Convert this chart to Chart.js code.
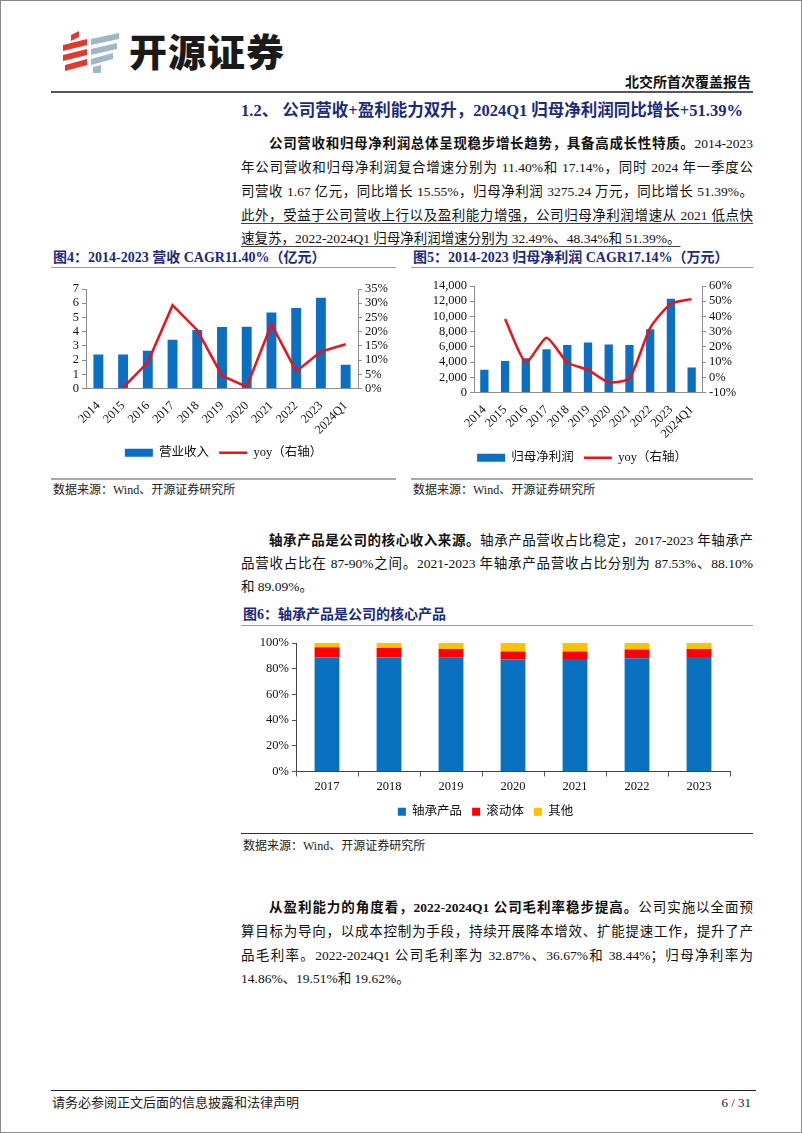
<!DOCTYPE html>
<html>
<head>
<meta charset="utf-8">
<script src="https://cdn.jsdelivr.net/npm/chart.js@4.4.1/dist/chart.umd.min.js"></script>
<style>
body { margin: 0; }
#page { position: relative; width: 802px; height: 1133px; box-sizing: border-box; border: 1px solid #8a8a8a; background: #fff;
  font-family: "Liberation Serif", "Noto Sans CJK SC", serif; color: #111; overflow: hidden; }
.abs { position: absolute; }
.ln { position: absolute; left: 240px; width: 512px; font-size: 13.5px; line-height: 20px; text-align: justify; text-align-last: justify; }
.ln.last { text-align-last: left; }
.ln.ind { padding-left: 28px; width: 484px; }
.u { text-decoration: underline; text-decoration-color: #444; text-underline-offset: 3px; }
.navy { color: #1c2a7c; font-weight: bold; }
.ftitle { position: absolute; font-size: 14px; line-height: 18px; white-space: nowrap; }
.rule { position: absolute; height: 0; }
.src { position: absolute; font-size: 12px; line-height: 16px; color: #222; }
.box { position: absolute; }
</style>
</head>
<body>
<div id="page">
  <!-- logo -->
  <svg class="abs" style="left:60px;top:28px" width="62" height="46" viewBox="0 0 62 46">
    <polygon points="10,6 18,2 18,8 10,12" fill="#e03a2f"/>
    <polygon points="2,16 26,10 26,16 2,22" fill="#e03a2f"/>
    <polygon points="2,26 26,20 26,26 2,32" fill="#e03a2f"/>
    <polygon points="4,36 26,30 26,36 4,42" fill="#e03a2f"/>
    <polygon points="30,10 58,4 58,10 30,16" fill="#9fb8c8"/>
    <polygon points="30,20 56,14 56,20 30,26" fill="#9fb8c8"/>
    <polygon points="30,30 52,24 52,30 30,36" fill="#9fb8c8"/>
    <polygon points="32,38 40,36 40,44 32,44" fill="#9fb8c8"/>
  </svg>
  <div class="abs" style="left:128px;top:26px;font-family:'Noto Sans CJK SC';font-weight:900;font-size:38px;line-height:46px;color:#1a1a1a;letter-spacing:1px">开源证券</div>
  <div class="abs" style="right:50px;top:73px;font-size:14px;font-weight:bold;line-height:18px">北交所首次覆盖报告</div>
  <div class="rule" style="left:50px;width:702px;top:90px;border-top:2px solid #555"></div>

  <div class="abs navy" style="left:240px;top:99px;font-size:16.5px;line-height:22px;white-space:nowrap">1.2、 公司营收+盈利能力双升，2024Q1 归母净利润同比增长+51.39%</div>

  <div class="ln ind" style="top:133px"><b>公司营收和归母净利润总体呈现稳步增长趋势，具备高成长性特质。</b>2014-2023</div>
  <div class="ln" style="top:157px">年公司营收和归母净利润复合增速分别为 11.40%和 17.14%，同时 2024 年一季度公</div>
  <div class="ln" style="top:181px">司营收 1.67 亿元，同比增长 15.55%，归母净利润 3275.24 万元，同比增长 51.39%。</div>
  <div class="ln" style="top:205px"><span class="u">此外，受益于公司营收上行以及盈利能力增强，公司归母净利润增速从 2021 低点快</span></div>
  <div class="ln last" style="top:228px"><span class="u">速复苏，2022-2024Q1 归母净利润增速分别为 32.49%、48.34%和 51.39%。</span></div>

  <div class="ftitle navy" style="left:52px;top:248px">图4：2014-2023 营收 CAGR11.40%（亿元）</div>
  <div class="rule" style="left:50px;width:345px;top:266px;border-top:1px solid #9a9a9a"></div>
  <div class="ftitle navy" style="left:412px;top:248px">图5：2014-2023 归母净利润 CAGR17.14%（万元）</div>
  <div class="rule" style="left:410px;width:342px;top:266px;border-top:1px solid #9a9a9a"></div>

  <div class="box" style="left:50px;top:270px;width:345px;height:198px"><canvas id="revChart"></canvas></div>
  <div class="box" style="left:410px;top:270px;width:342px;height:203px"><canvas id="profitChart"></canvas></div>

  <div class="rule" style="left:50px;width:345px;top:477px;border-top:2px solid #a8a8a8"></div>
  <div class="src" style="left:52px;top:481px">数据来源：Wind、开源证券研究所</div>
  <div class="rule" style="left:410px;width:342px;top:477px;border-top:2px solid #a8a8a8"></div>
  <div class="src" style="left:412px;top:481px">数据来源：Wind、开源证券研究所</div>

  <div class="ln ind" style="top:530px"><b>轴承产品是公司的核心收入来源。</b>轴承产品营收占比稳定，2017-2023 年轴承产</div>
  <div class="ln" style="top:553px">品营收占比在 87-90%之间。2021-2023 年轴承产品营收占比分别为 87.53%、88.10%</div>
  <div class="ln last" style="top:576px">和 89.09%。</div>

  <div class="ftitle navy" style="left:242px;top:605px">图6：轴承产品是公司的核心产品</div>
  <div class="rule" style="left:240px;width:512px;top:624px;border-top:1px solid #9a9a9a"></div>
  <div class="box" style="left:240px;top:630px;width:512px;height:197px"><canvas id="mixChart"></canvas></div>
  <div class="rule" style="left:240px;width:512px;top:832px;border-top:1px solid #333"></div>
  <div class="src" style="left:242px;top:837px">数据来源：Wind、开源证券研究所</div>

  <div class="ln ind" style="top:897px"><b>从盈利能力的角度看，2022-2024Q1 公司毛利率稳步提高。</b>公司实施以全面预</div>
  <div class="ln" style="top:921px">算目标为导向，以成本控制为手段，持续开展降本增效、扩能提速工作，提升了产</div>
  <div class="ln" style="top:945px">品毛利率。2022-2024Q1 公司毛利率为 32.87%、36.67%和 38.44%；归母净利率为</div>
  <div class="ln last" style="top:968px">14.86%、19.51%和 19.62%。</div>

  <div class="rule" style="left:50px;width:705px;top:1089px;border-top:1.5px solid #222"></div>
  <div class="src" style="left:51px;top:1094px;font-size:13px">请务必参阅正文后面的信息披露和法律声明</div>
  <div class="src" style="right:50px;top:1094px;font-size:13px">6 / 31</div>
</div>

<script>
// 图4 营收（亿元）及同比
const revLabels = ['2014', '2015', '2016', '2017', '2018', '2019', '2020', '2021', '2022', '2023', '2024Q1'];
const revenue = [2.39, 2.40, 2.65, 3.43, 4.11, 4.32, 4.34, 5.35, 5.66, 6.38, 1.67];
const revenueYoy = [null, 0.3, 9.2, 29.3, 20.5, 4.5, 0.6, 22.6, 6.0, 13.0, 15.55];

// 图5 归母净利润（万元）及同比
const profitLabels = ['2014', '2015', '2016', '2017', '2018', '2019', '2020', '2021', '2022', '2023', '2024Q1'];
const netProfit = [2980, 4150, 4500, 5690, 6260, 6560, 6300, 6260, 8310, 12330, 3275.24];
const netProfitYoy = [null, 38.3, 9.8, 26.0, 9.8, 4.8, -3.3, -0.7, 32.49, 48.34, 51.39];

// 图6 收入结构
const mixYears = ['2017', '2018', '2019', '2020', '2021', '2022', '2023'];
const bearingShare = [88.7, 88.7, 88.6, 87.1, 87.53, 88.10, 89.09];
const rollerShare = [8.0, 7.4, 6.7, 6.2, 5.8, 6.8, 6.3];
const otherShare = [3.3, 3.9, 4.7, 6.7, 6.6, 5.1, 4.6];

const serif = "'Liberation Serif', 'Noto Sans CJK SC', serif";
const tickFont = { family: serif, size: 12.5 };
const legendFont = { family: serif, size: 12.5 };
const barBlue = '#0d6fc2';
const lineRed = '#e8131b';
const axisGray = '#8c8c8c';

function fixWidth(w) {
    return function (scale) { scale.width = w; };
}
function fixHeight(h) {
    return function (scale) { scale.height = h; };
}

function dualAxisChart(id, labels, bars, yoy, barName, opts) {
    const ctx = document.getElementById(id).getContext('2d');
    return new Chart(ctx, {
        data: {
            labels: labels,
            datasets: [{
                type: 'line',
                label: 'yoy（右轴）',
                data: yoy,
                yAxisID: 'y1',
                borderColor: lineRed,
                backgroundColor: lineRed,
                borderWidth: 2.5,
                pointRadius: 0,
                pointStyle: 'line',
                tension: opts.tension,
                order: 0
            }, {
                type: 'bar',
                label: barName,
                data: bars,
                yAxisID: 'y',
                backgroundColor: barBlue,
                barPercentage: 0.4,
                categoryPercentage: 1,
                pointStyle: 'rect',
                order: 1
            }]
        },
        options: {
            responsive: true,
            maintainAspectRatio: false,
            animation: false,
            layout: { padding: { top: opts.top, left: 0, right: 0, bottom: 0 } },
            plugins: {
                tooltip: { enabled: false },
                legend: {
                    position: 'bottom',
                    reverse: true,
                    labels: {
                        usePointStyle: true,
                        pointStyleWidth: 28,
                        boxHeight: 8,
                        padding: 10,
                        color: '#111',
                        font: legendFont
                    }
                }
            },
            scales: {
                x: {
                    afterFit: fixHeight(opts.xHeight),
                    grid: { display: false },
                    border: { display: true, color: axisGray, width: 1 },
                    ticks: { color: '#111', font: tickFont, minRotation: 45, maxRotation: 45, autoSkip: false, padding: 2 }
                },
                y: {
                    position: 'left',
                    min: opts.yMin, max: opts.yMax,
                    afterFit: fixWidth(opts.leftW),
                    grid: { drawOnChartArea: false, drawTicks: true, tickLength: 4, color: axisGray },
                    border: { display: true, color: axisGray, width: 1 },
                    ticks: { stepSize: opts.yStep, autoSkip: false, color: '#111', font: tickFont, padding: 3,
                        callback: v => v.toLocaleString('en-US') }
                },
                y1: {
                    position: 'right',
                    min: opts.y1Min, max: opts.y1Max,
                    afterFit: fixWidth(opts.rightW),
                    grid: { drawOnChartArea: false, drawTicks: true, tickLength: 4, color: axisGray },
                    border: { display: true, color: axisGray, width: 1 },
                    ticks: { stepSize: opts.y1Step, autoSkip: false, color: '#111', font: tickFont, padding: 3,
                        callback: v => v + '%' }
                }
            }
        }
    });
}

dualAxisChart('revChart', revLabels, revenue, revenueYoy, '营业收入', {
    tension: 0, top: 18, xHeight: 48, leftW: 35, rightW: 38,
    yMin: 0, yMax: 7, yStep: 1, y1Min: 0, y1Max: 35, y1Step: 5
});

dualAxisChart('profitChart', profitLabels, netProfit, netProfitYoy, '归母净利润', {
    tension: 0.2, top: 15, xHeight: 49, leftW: 63, rightW: 51,
    yMin: 0, yMax: 14000, yStep: 2000, y1Min: -10, y1Max: 60, y1Step: 10
});

// 图6 堆积柱
const mixCtx = document.getElementById('mixChart').getContext('2d');
new Chart(mixCtx, {
    type: 'bar',
    data: {
        labels: mixYears,
        datasets: [{
            label: '轴承产品',
            data: bearingShare,
            backgroundColor: '#0a70c0'
        }, {
            label: '滚动体',
            data: rollerShare,
            backgroundColor: '#fe0000'
        }, {
            label: '其他',
            data: otherShare,
            backgroundColor: '#ffc000'
        }]
    },
    options: {
        responsive: true,
        maintainAspectRatio: false,
        animation: false,
        datasets: { bar: { barPercentage: 0.4, categoryPercentage: 1 } },
        layout: { padding: { top: 12, left: 0, right: 23, bottom: 0 } },
        plugins: {
            tooltip: { enabled: false },
            legend: {
                position: 'bottom',
                labels: { boxWidth: 8, boxHeight: 8, padding: 10, color: '#111', font: legendFont }
            }
        },
        scales: {
            x: {
                stacked: true,
                afterFit: fixHeight(24),
                grid: { drawOnChartArea: false, drawTicks: true, tickLength: 5, color: '#555' },
                border: { display: true, color: '#444', width: 1 },
                ticks: { color: '#111', font: tickFont, padding: 3 }
            },
            y: {
                stacked: true,
                min: 0, max: 100,
                afterFit: fixWidth(55),
                grid: { drawOnChartArea: false, drawTicks: true, tickLength: 4, color: '#555' },
                border: { display: true, color: '#444', width: 1 },
                ticks: { stepSize: 20, autoSkip: false, color: '#111', font: tickFont, padding: 3, callback: v => v + '%' }
            }
        }
    }
});
</script>
</body>
</html>
